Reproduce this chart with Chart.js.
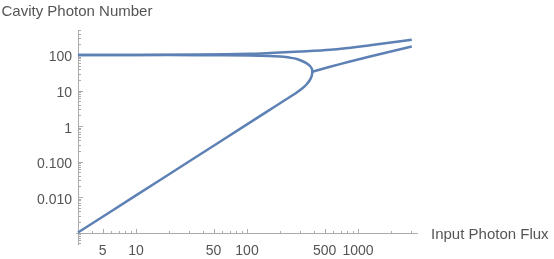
<!DOCTYPE html>
<html>
<head>
<meta charset="utf-8">
<script src="https://cdn.jsdelivr.net/npm/chart.js@4.4.0/dist/chart.umd.min.js"></script>
<style>
  html, body { margin: 0; padding: 0; background: #fff; }
</style>
</head>
<body>
<canvas id="chart" width="554" height="259"></canvas>
<script>
// curve branches: input flux -> cavity photon number
const upperFlux = [3, 10, 37.7, 106, 161, 300, 560, 1282, 3050];
const upperPhotons = [100, 100, 102.6, 108, 113.8, 124.7, 140, 187.6, 268];
// middle branch folds back into the lower branch at the turning point
const foldFlux = [3, 10, 37.7, 106, 161, 212, 244, 281, 313, 345, 369.6, 384.5, 387,
  386.1, 379.5, 368.1, 346.2, 317.8, 272.7, 220, 150, 100, 30, 10, 3];
const foldPhotons = [100, 100, 98.7, 96.8, 93.7, 89.5, 83.9, 77.1, 67.8, 58.3, 49, 40.4, 33.9,
  29.2, 24, 19.8, 15.2, 11.7, 8.27, 5.38, 2.5, 1.11, 0.1, 0.0111, 0.001];
const thirdFlux = [387, 560, 847, 1282, 3050];
const thirdPhotons = [33.9, 46.6, 65.6, 90.7, 173.5];

const xMajorTicks = [5, 10, 50, 100, 500, 1000];
const xTickLabels = ['5', '10', '50', '100', '500', '1000'];
const xMinorTicks = [4, 6, 7, 8, 9, 20, 30, 40, 60, 70, 80, 90, 200, 300, 400, 600, 700, 800, 900, 2000, 3000];
const yMajorTicks = [0.01, 0.1, 1, 10, 100];
const yTickLabels = ['0.010', '0.100', '1', '10', '100'];
const yMinorTicks = [0.0005, 0.0006, 0.0007, 0.0008, 0.0009,
  0.002, 0.003, 0.004, 0.005, 0.006, 0.007, 0.008, 0.009,
  0.02, 0.03, 0.04, 0.05, 0.06, 0.07, 0.08, 0.09,
  0.2, 0.3, 0.4, 0.5, 0.6, 0.7, 0.8, 0.9,
  2, 3, 4, 5, 6, 7, 8, 9,
  20, 30, 40, 50, 60, 70, 80, 90, 200, 300, 400, 500];

const xMin = 2.88, xMax = 3470, yMin = 0.000445, yMax = 506;
const originX = 3, originY = 0.001;

const pts = (xs, ys) => xs.map((x, i) => ({ x: x, y: ys[i] }));

const axisColor = '#ababab';
const textColor = '#555555';
const font = '"Liberation Sans", Arial, sans-serif';

// Mathematica-style axes crossing at the origin, ticks pointing inward
const axesPlugin = {
  id: 'mmaAxes',
  beforeDatasetsDraw(chart) {
    const ctx = chart.ctx;
    const xs = chart.scales.x, ys = chart.scales.y;
    const area = chart.chartArea;
    const ox = Math.round(xs.getPixelForValue(originX)) + 0.5;
    const oy = Math.round(ys.getPixelForValue(originY)) + 0.5;
    ctx.save();
    ctx.strokeStyle = axisColor;
    ctx.lineWidth = 1;
    ctx.beginPath();
    ctx.moveTo(area.left, oy); ctx.lineTo(area.right, oy);
    ctx.moveTo(ox, area.top); ctx.lineTo(ox, area.bottom);
    xMajorTicks.forEach(v => {
      const px = Math.round(xs.getPixelForValue(v)) + 0.5;
      ctx.moveTo(px, oy); ctx.lineTo(px, oy - 4.5);
    });
    xMinorTicks.forEach(v => {
      const px = Math.round(xs.getPixelForValue(v)) + 0.5;
      ctx.moveTo(px, oy); ctx.lineTo(px, oy - 2.5);
    });
    yMajorTicks.forEach(v => {
      const py = Math.round(ys.getPixelForValue(v)) + 0.5;
      ctx.moveTo(ox, py); ctx.lineTo(ox + 4.5, py);
    });
    yMinorTicks.forEach(v => {
      const py = Math.round(ys.getPixelForValue(v)) + 0.5;
      ctx.moveTo(ox, py); ctx.lineTo(ox + 2.5, py);
    });
    ctx.stroke();

    ctx.fillStyle = textColor;
    ctx.font = '14px ' + font;
    ctx.textBaseline = 'alphabetic';
    ctx.textAlign = 'center';
    xMajorTicks.forEach((v, i) => {
      ctx.fillText(xTickLabels[i], xs.getPixelForValue(v), oy + 21);
    });
    ctx.textAlign = 'right';
    yMajorTicks.forEach((v, i) => {
      ctx.fillText(yTickLabels[i], ox - 6.5, ys.getPixelForValue(v) + 6.5);
    });

    ctx.font = '15px ' + font;
    ctx.textAlign = 'left';
    ctx.fillText('Cavity Photon Number', 1.5, 16);
    ctx.fillText('Input Photon Flux', area.right + 13, oy + 5.5);
    ctx.restore();
  }
};

new Chart(document.getElementById('chart'), {
  type: 'scatter',
  data: {
    datasets: [
      { data: pts(upperFlux, upperPhotons) },
      { data: pts(foldFlux, foldPhotons) },
      { data: pts(thirdFlux, thirdPhotons) }
    ]
  },
  options: {
    responsive: false,
    animation: false,
    devicePixelRatio: 1,
    layout: { padding: { left: 76, right: 136, top: 30, bottom: 14 } },
    showLine: true,
    elements: {
      point: { radius: 0 },
      line: { tension: 0.3, borderWidth: 2.5, borderColor: '#5e81b5', fill: false }
    },
    plugins: { legend: { display: false }, tooltip: { enabled: false } },
    scales: {
      x: { type: 'logarithmic', min: xMin, max: xMax, display: false },
      y: { type: 'logarithmic', min: yMin, max: yMax, display: false }
    }
  },
  plugins: [axesPlugin]
});
</script>
</body>
</html>
